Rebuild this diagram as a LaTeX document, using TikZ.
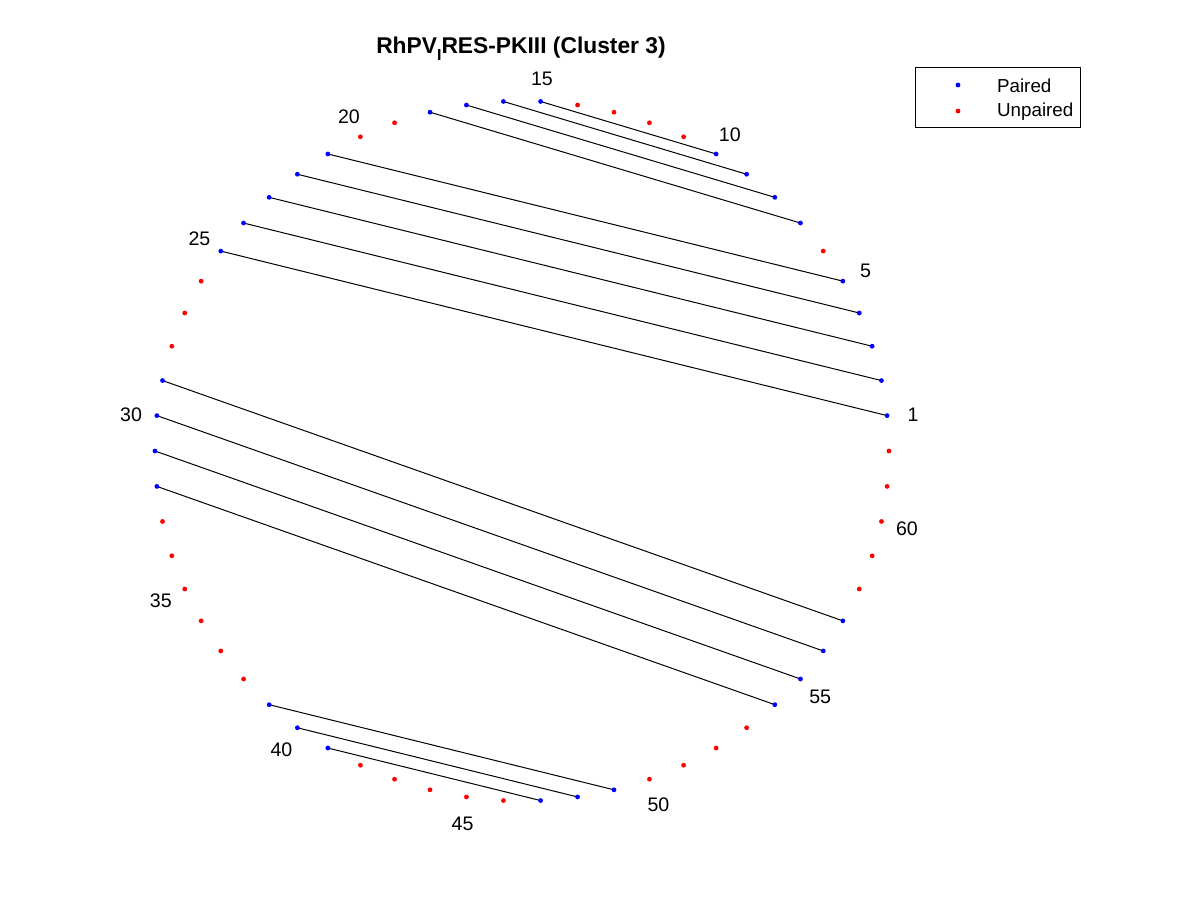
\documentclass[tikz,border=0pt]{standalone}
\usepackage{fontspec}
\setmainfont{Liberation Sans}
\usepackage{tikz}
\usetikzlibrary{positioning}

\begin{document}
\begin{tikzpicture}[
  x=0.5pt, y=-0.5pt,
  dot/.style={circle, inner sep=0pt, minimum size=2.4pt},
  paired/.style={dot, fill=blue},
  unpaired/.style={dot, fill=red},
  pairline/.style={draw=black, line width=0.5pt},
  idx/.style={font=\fontsize{9.8}{11}\selectfont},
  legtext/.style={font=\fontsize{9.4}{11}\selectfont, anchor=west}
]
  \useasboundingbox[fill=white] (0,0) rectangle (1200,900);

  % title
  \node[font=\bfseries\fontsize{11.4}{13}\selectfont] (title) at (521,49)
    {RhPV\raisebox{-0.6ex}{\fontsize{8}{9}\selectfont I}RES-PKIII (Cluster 3)};

  % positions on the circle
  \foreach \k in {1,...,62}
    \coordinate (c\k) at ({522+367*cos(\k*5.80645)},{451-350*sin(\k*5.80645)});

  % base pairs
  \foreach \a/\b in {1/25,2/24,3/23,4/22,5/21,7/18,8/17,9/16,10/15,
                     29/57,30/56,31/55,32/54,39/49,40/48,41/47}
    \draw[pairline] (c\a) -- (c\b);

  % dots
  \foreach \k in {1,2,3,4,5,7,8,9,10,15,16,17,18,21,22,23,24,25,
                  29,30,31,32,39,40,41,47,48,49,54,55,56,57}
    \node[paired] (p\k) at (c\k) {};
  \foreach \k in {6,11,12,13,14,19,20,26,27,28,33,34,35,36,37,38,
                  42,43,44,45,46,50,51,52,53,58,59,60,61,62}
    \node[unpaired] (u\k) at (c\k) {};

  % index labels
  \foreach \k in {1,5,10,15,20,25,30,35,40,45,50,55,60}
    \node[idx] (n\k) at ({522+393*cos(\k*5.80645)},{453-375*sin(\k*5.80645)}) {\k};

  % legend
  \node[draw, line width=0.5pt, minimum width=82.5pt, minimum height=30pt,
        inner sep=0pt] (legend) at (997.5,97) {};
  \node[paired] (lp) at (958,85) {};
  \node[legtext] (lpt) at (990,86) {Paired};
  \node[unpaired] (lu) at (958,111) {};
  \node[legtext] (lut) at (990,112) {Unpaired};
\end{tikzpicture}
\end{document}
